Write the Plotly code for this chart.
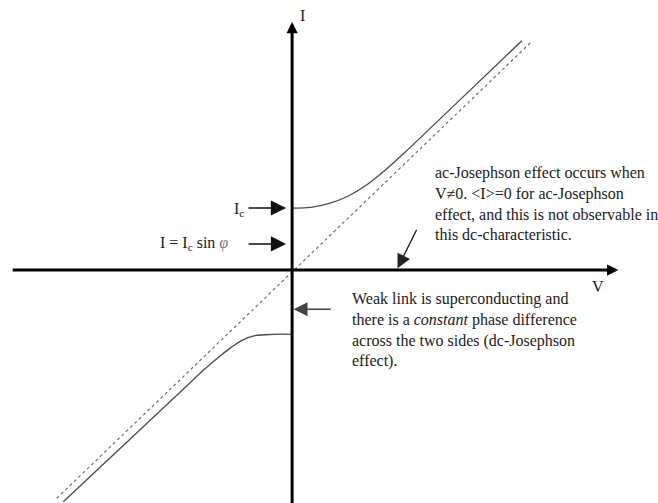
import plotly.graph_objects as go

# Current-voltage characteristic of a Josephson junction (units of Ic)
upper_v = [0.0, 0.3, 0.6, 0.9, 1.2, 1.5, 1.8, 2.2, 3.705]
upper_i = [1.0, 1.01, 1.075, 1.19, 1.37, 1.61, 1.88, 2.26, 3.698]

lower_v = [0.0, -0.3, -0.6, -0.8, -1.0, -1.2, -1.4, -1.7, -3.689]
lower_i = [-1.037, -1.038, -1.06, -1.13, -1.26, -1.42, -1.59, -1.87, -3.737]

# Ohmic (normal-state) line through the origin
ohmic_v = [-3.795, 3.839]
ohmic_i = [-3.682, 3.661]

x_range = [-4.71, 5.90]
y_range = [-3.758, 4.355]

SERIF = "Liberation Serif, Times New Roman, serif"
INK = "#1a1a1a"

fig = go.Figure()
fig.add_trace(go.Scatter(x=ohmic_v, y=ohmic_i, mode="lines",
                         line=dict(color="#6e6e6e", width=1.2, dash="3px,3px"),
                         hoverinfo="skip"))
fig.add_trace(go.Scatter(x=upper_v, y=upper_i, mode="lines",
                         line=dict(color="#4a4a4a", width=1.3, shape="spline", smoothing=1.0),
                         hoverinfo="skip"))
fig.add_trace(go.Scatter(x=lower_v, y=lower_i, mode="lines",
                         line=dict(color="#4a4a4a", width=1.3, shape="spline", smoothing=1.0),
                         hoverinfo="skip"))

def arrow(x, y, ax, ay, width, size, color="#111111"):
    fig.add_annotation(x=x, y=y, ax=ax, ay=ay, xref="x", yref="y",
                       axref="x", ayref="y", text="", showarrow=True,
                       arrowhead=2, arrowwidth=width, arrowsize=size,
                       arrowcolor=color)

# Axes with arrowheads
arrow(5.26, 0.0, -4.53, 0.0, 3, 0.75, "#000000")
arrow(0.0, 4.0, 0.0, -3.8, 3, 0.75, "#000000")

# Pointers
arrow(-0.097, 1.0, -0.726, 1.0, 1.6, 1.9)
arrow(-0.097, 0.42, -0.726, 0.42, 1.6, 1.9)
arrow(0.024, -0.634, 0.645, -0.634, 1.4, 2.0, "#444444")
arrow(1.70, 0.027, 2.02, 0.673, 1.4, 2.0, "#222222")

def label(x, y, text, xanchor="center", yanchor="middle", align="left"):
    fig.add_annotation(x=x, y=y, xref="x", yref="y", text=text,
                       showarrow=False, xanchor=xanchor, yanchor=yanchor,
                       align=align, font=dict(family=SERIF, size=16, color=INK))

label(0.161, 4.11, "I")
label(4.935, -0.274, "V")
label(-0.75, 0.97, "I<sub>c</sub>", xanchor="right")
label(-1.0, 0.42,
      "I = I<sub>c</sub> sin <i><span style='color:#777777'>φ</span></i>",
      xanchor="right")
label(2.27, 1.065,
      "ac-Josephson effect occurs when<br>"
      "V≠0. &lt;I&gt;=0 for ac-Josephson<br>"
      "effect, and this is not observable in<br>"
      "this dc-characteristic.",
      xanchor="left")
label(0.94, -0.968,
      "Weak link is superconducting and<br>"
      "there is a <i>constant</i> phase difference<br>"
      "across the two sides (dc-Josephson<br>"
      "effect).",
      xanchor="left")

fig.update_layout(
    width=658, height=503,
    margin=dict(l=0, r=0, t=0, b=0),
    paper_bgcolor="white", plot_bgcolor="white",
    showlegend=False,
    xaxis=dict(visible=False, range=x_range, fixedrange=True),
    yaxis=dict(visible=False, range=y_range, fixedrange=True),
)

fig.write_html("out.html")
